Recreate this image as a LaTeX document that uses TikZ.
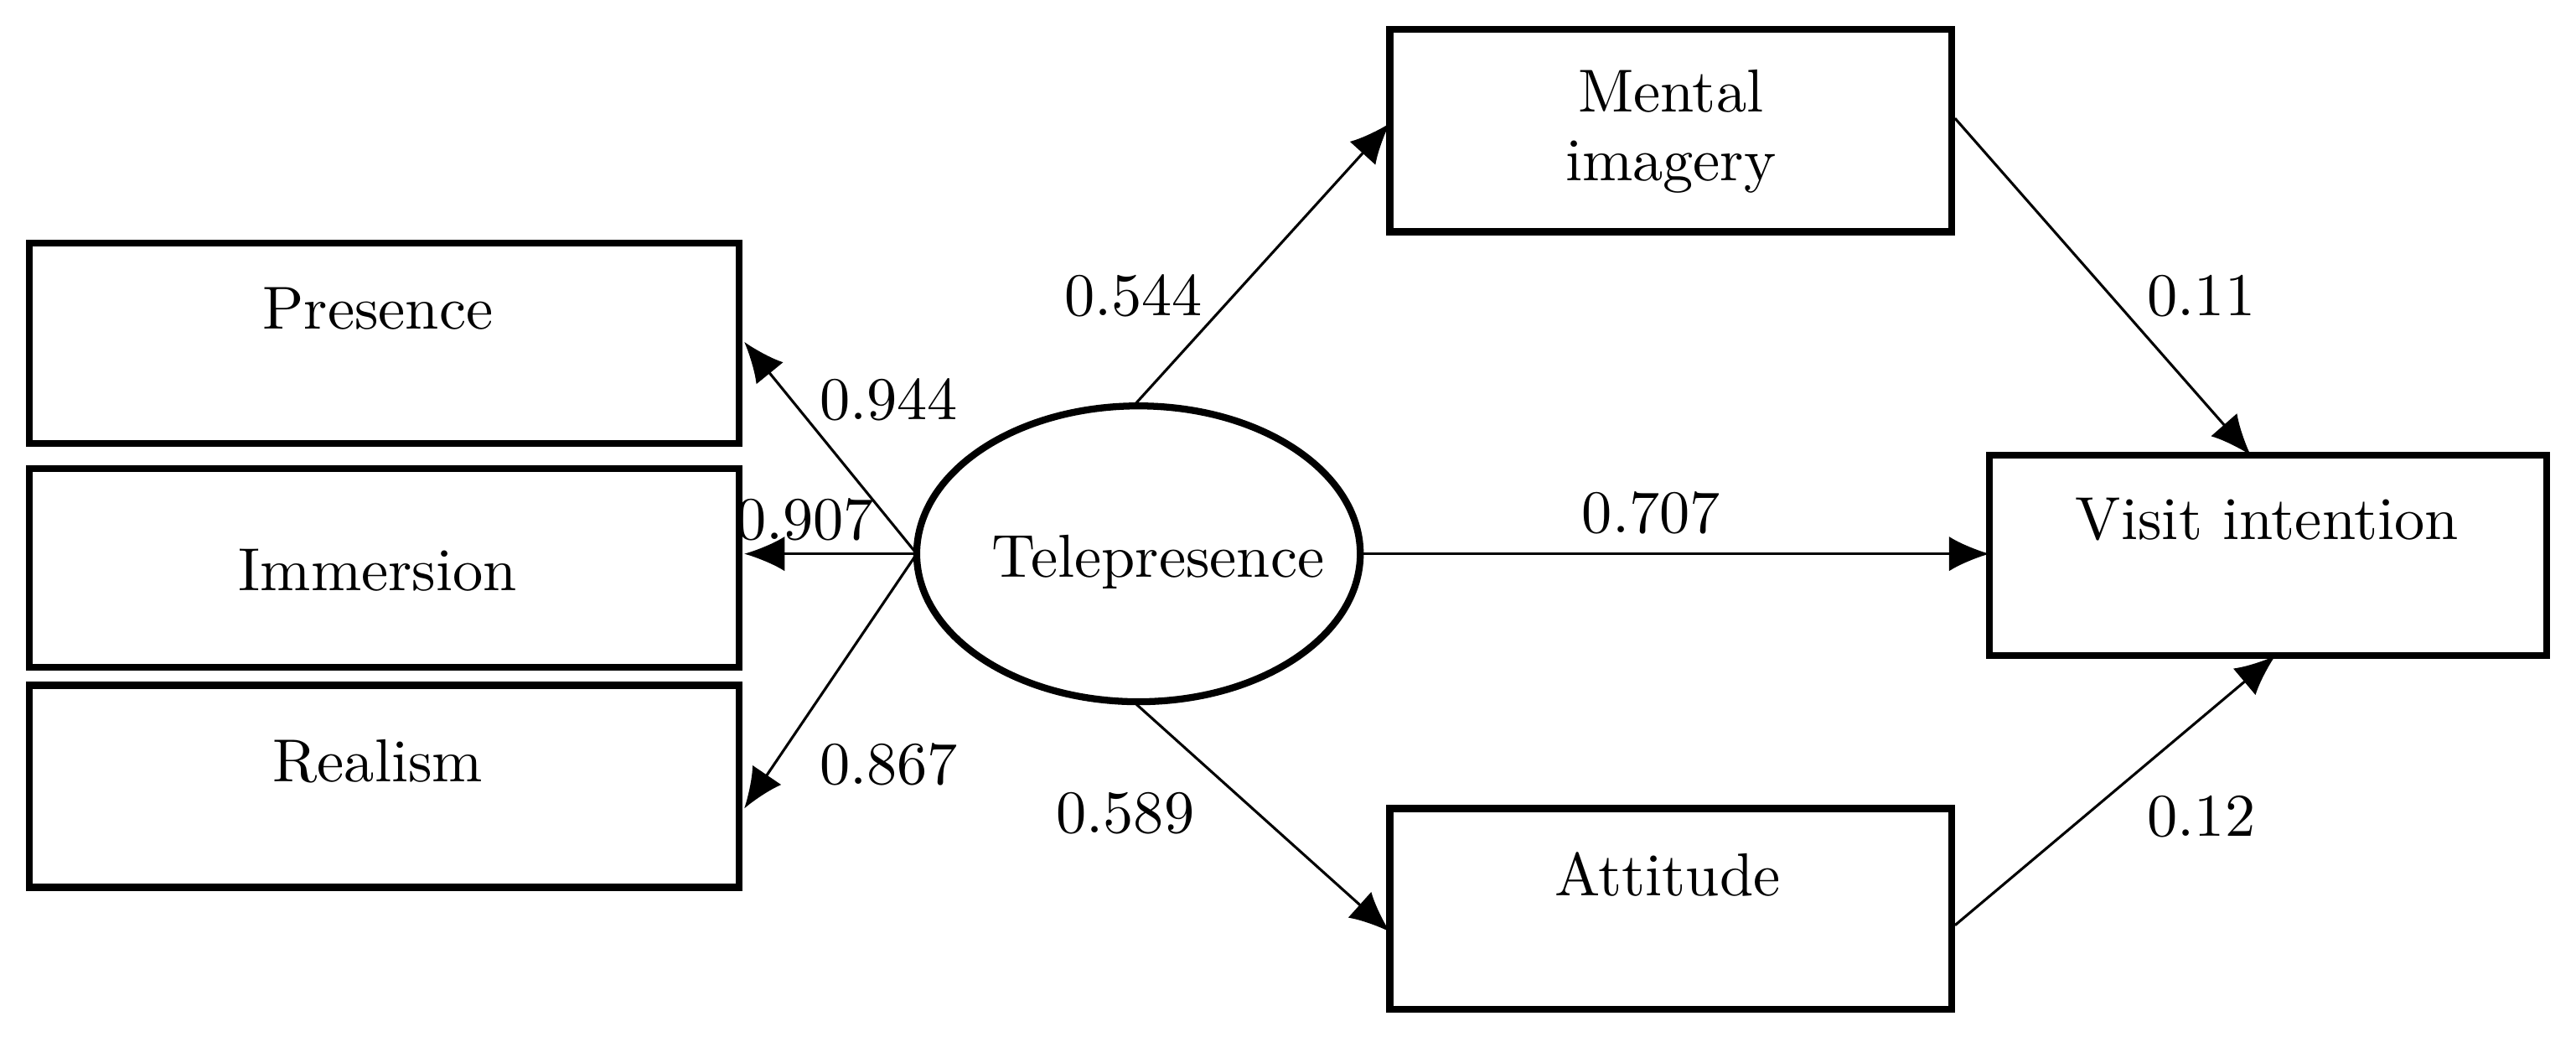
\documentclass[tikz,border=0pt]{standalone}
\usetikzlibrary{arrows.meta}
\begin{document}
\begin{tikzpicture}[x=0.01cm,y=-0.01cm,
  box/.style={draw,line width=1.2pt},
  lbl/.style={font=\fontsize{10.5}{12}\selectfont},
  arr/.style={-{Latex[length=7pt,width=6pt]},line width=0.45pt}]
\useasboundingbox (0,0) rectangle (1568,634);
\draw[box] (18,148) rectangle (450,270);
\draw[box] (18,285) rectangle (450,406);
\draw[box] (18,417) rectangle (450,540);
\draw[box] (846,18) rectangle (1188,141);
\draw[box] (1211,277) rectangle (1550,399);
\draw[box] (846,492) rectangle (1188,614);
\draw[box] (693,337) ellipse [x radius=135, y radius=90];
\node[lbl] (pres) at (230,188) {Presence};
\node[lbl] (imm) at (230,347) {Immersion};
\node[lbl] (real) at (230,463) {Realism};
\node[lbl,align=center] (ment) at (1017,80) {Mental\\imagery};
\node[lbl] (vis) at (1380,316) {Visit intention};
\node[lbl] (att) at (1015,532) {Attitude};
\node[lbl] (tele) at (705,342) {Telepresence};
\coordinate (e) at (558,337);
\coordinate (p1) at (453,208);
\coordinate (i1) at (453,337);
\coordinate (r1) at (453,492);
\coordinate (et) at (690,247);
\coordinate (eb) at (690,427);
\coordinate (er) at (830,337);
\coordinate (mt) at (846,75);
\coordinate (ab) at (846,567);
\coordinate (vl) at (1211,337);
\coordinate (mo) at (1190,72);
\coordinate (vt) at (1370,277);
\coordinate (ao) at (1190,563);
\coordinate (vb) at (1385,399);
\draw[arr] (e) -- (p1);
\draw[arr] (e) -- (i1);
\draw[arr] (e) -- (r1);
\draw[arr] (et) -- (mt);
\draw[arr] (eb) -- (ab);
\draw[arr] (er) -- (vl);
\draw[arr] (mo) -- (vt);
\draw[arr] (ao) -- (vb);
\node[lbl] (l1) at (690,180) {0.544};
\node[lbl] (l2) at (541,243) {0.944};
\node[lbl] (l3) at (490,316) {0.907};
\node[lbl] (l4) at (541,465) {0.867};
\node[lbl] (l5) at (685,495) {0.589};
\node[lbl] (l6) at (1005,312) {0.707};
\node[lbl] (l7) at (1340,180) {0.11};
\node[lbl] (l8) at (1340,497) {0.12};
\end{tikzpicture}
\end{document}
